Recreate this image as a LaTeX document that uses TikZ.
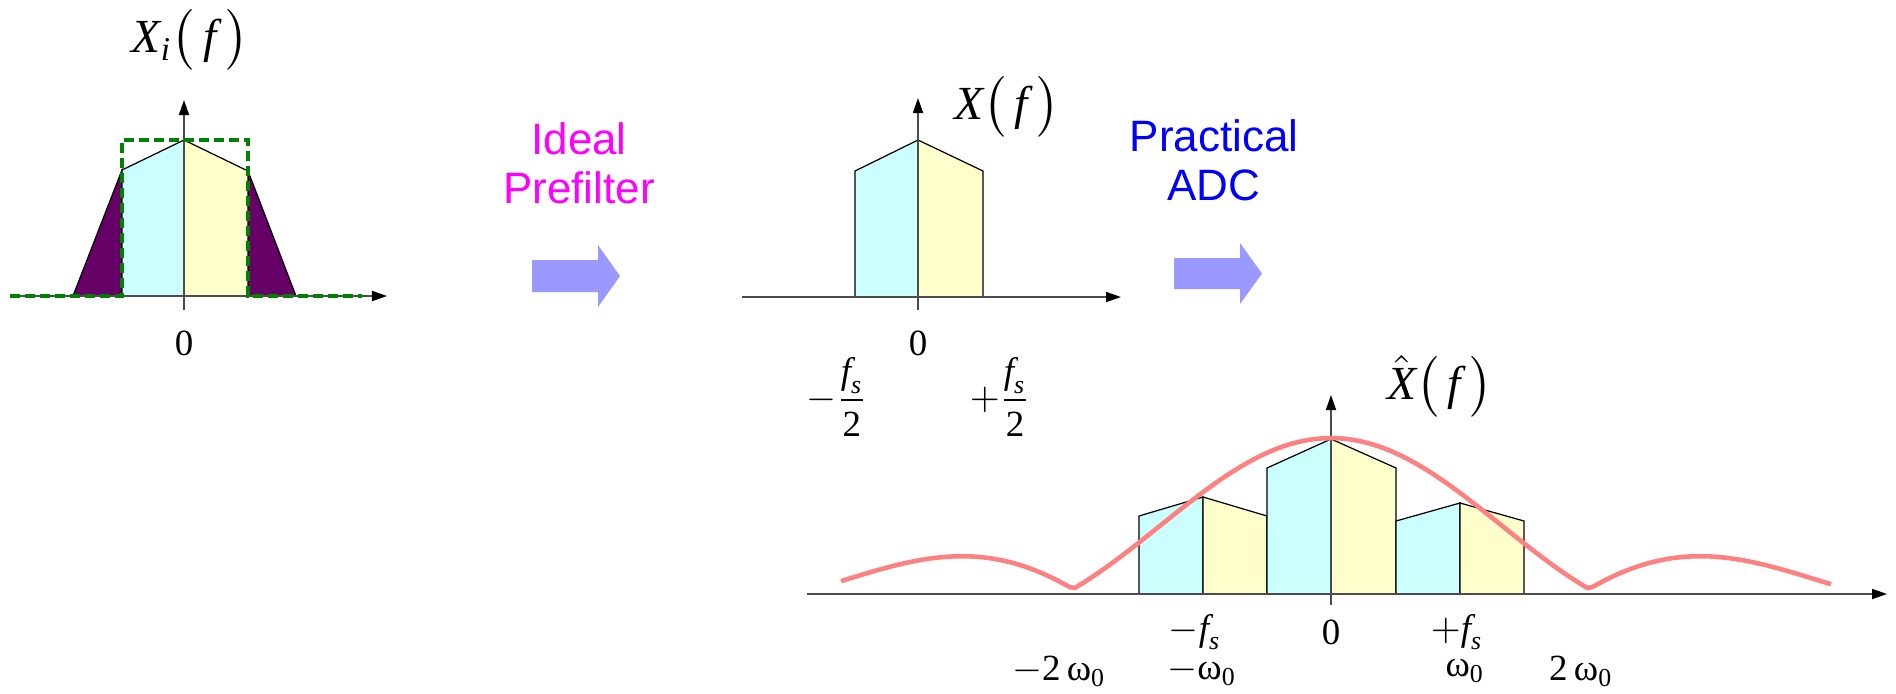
\documentclass[tikz,border=0pt]{standalone}
\usepackage{amsmath}
\usepackage{fontspec}
\setmainfont{Liberation Serif}
\newfontfamily\arialfont{Liberation Sans}
\usetikzlibrary{arrows.meta}
\definecolor{bandcyan}{RGB}{204,255,255}
\definecolor{bandyellow}{RGB}{255,255,204}
\definecolor{aliaspurple}{RGB}{102,0,102}
\definecolor{filtergreen}{RGB}{0,128,0}
\definecolor{flowblue}{RGB}{153,153,255}
\definecolor{sincred}{RGB}{255,128,128}
\definecolor{labelmagenta}{RGB}{255,0,255}
\definecolor{labelblue}{RGB}{0,0,255}

\begin{document}
\begin{tikzpicture}[
    x=0.01cm, y=-0.01cm,
    axis/.style={draw=black!70, line width=0.5pt, -{Triangle[length=0.15cm, width=0.1cm, color=black]}},
    lowband/.style={fill=bandcyan, draw=black, line width=0.35pt},
    highband/.style={fill=bandyellow, draw=black, line width=0.35pt},
    alias/.style={fill=aliaspurple, draw=black, line width=0.35pt},
    filterline/.style={draw=filtergreen, line width=1.1pt, dash pattern=on 0.1cm off 0.05cm},
    flowarrow/.style={fill=flowblue},
    stepname/.style={font=\arialfont\fontsize{12.5}{13.9}\selectfont, align=center, text=#1},
    funclabel/.style={font=\fontsize{13.5}{15}\selectfont, inner sep=0pt},
    ticklabel/.style={font=\fontsize{10.5}{12}\selectfont, inner sep=0pt}
]
\useasboundingbox (0,0) rectangle (1896,693);

% Input spectrum with aliasing tails
\fill[alias] (73,296) -- (122,170) -- (122,296) -- cycle;
\fill[alias] (248,171) -- (296,296) -- (248,296) -- cycle;
\filldraw[lowband] (122,296) -- (122,170) -- (184,140) -- (184,296) -- cycle;
\filldraw[highband] (184,296) -- (184,140) -- (248,171) -- (248,296) -- cycle;
\draw[axis] (10,296) -- (387,296);
\draw[axis] (184,310) -- (184,100);
\draw[filterline] (10,296) -- (122,296) -- (122,140) -- (248,140) -- (248,296) -- (362,296);
\node[funclabel] (xin) at (190,40) {$\textit{X}_{\textit{i}}\bigl(\,\textit{f}\,\bigr)$};
\node[ticklabel] (zeroin) at (184,343) {0};

% Prefilter step
\fill[flowarrow] (532,260) -- (598,260) -- (598,245) -- (620,276) -- (598,307) -- (598,292) -- (532,292) -- cycle;
\node[stepname=labelmagenta] (prefilter) at (579,163) {Ideal\\Prefilter};

% Band-limited spectrum
\filldraw[lowband] (855,297) -- (855,171) -- (918,140) -- (918,297) -- cycle;
\filldraw[highband] (918,297) -- (918,140) -- (983,171) -- (983,297) -- cycle;
\draw[axis] (742,297) -- (1121,297);
\draw[axis] (918,310) -- (918,98);
\node[funclabel] (xband) at (1007,107) {$\textit{X}\bigl(\,\textit{f}\,\bigr)$};
\node[ticklabel] (zeroband) at (918,343) {0};
\node[ticklabel] (lowedge) at (837,397) {$-\dfrac{\textit{f}_{\textit{s}}}{\textup{2}}$};
\node[ticklabel] (highedge) at (1000,397) {$+\dfrac{\textit{f}_{\textit{s}}}{\textup{2}}$};

% ADC step
\fill[flowarrow] (1174,258) -- (1240,258) -- (1240,243) -- (1262,273.5) -- (1240,304) -- (1240,289) -- (1174,289) -- cycle;
\node[stepname=labelblue] (adc) at (1214,160) {Practical\\ADC};

% Sampled spectrum with sinc envelope
\filldraw[lowband] (1139,594) -- (1139,516) -- (1203,497) -- (1203,594) -- cycle;
\filldraw[highband] (1203,594) -- (1203,497) -- (1267,516) -- (1267,594) -- cycle;
\filldraw[lowband] (1267,594) -- (1267,468) -- (1331,439) -- (1331,594) -- cycle;
\filldraw[highband] (1331,594) -- (1331,439) -- (1396,468) -- (1396,594) -- cycle;
\filldraw[lowband] (1396,594) -- (1396,521) -- (1460,503) -- (1460,594) -- cycle;
\filldraw[highband] (1460,594) -- (1460,503) -- (1524,521) -- (1524,594) -- cycle;
\draw[axis] (807,594) -- (1887,594);
\draw[axis] (1331,605) -- (1331,395);
\draw[sincred, line width=1.3pt, line join=round] plot[domain=841:1831, samples=200]
    (\x, {589 - 151*abs(sin((\x-1331)/258*180)/(pi*(\x-1331)/258))});
\node[funclabel] (xhat) at (1440,386) {$\hat{\textit{X}}\bigl(\,\textit{f}\,\bigr)$};
\node[ticklabel] (minusfs) at (1195,632) {$-\textit{f}_{\textit{s}}$};
\node[ticklabel] (zerohat) at (1331,632) {0};
\node[ticklabel] (plusfs) at (1457,632) {$+\textit{f}_{\textit{s}}$};
\node[ticklabel] (minustwo) at (1059,671) {$-\textup{2}\,\text{ω}_{\textup{0}}$};
\node[ticklabel] (minusone) at (1202,671) {$-\text{ω}_{\textup{0}}$};
\node[ticklabel] (plusone) at (1465,671) {$\text{ω}_{\textup{0}}$};
\node[ticklabel] (plustwo) at (1581,671) {$\textup{2}\,\text{ω}_{\textup{0}}$};
\end{tikzpicture}
\end{document}
